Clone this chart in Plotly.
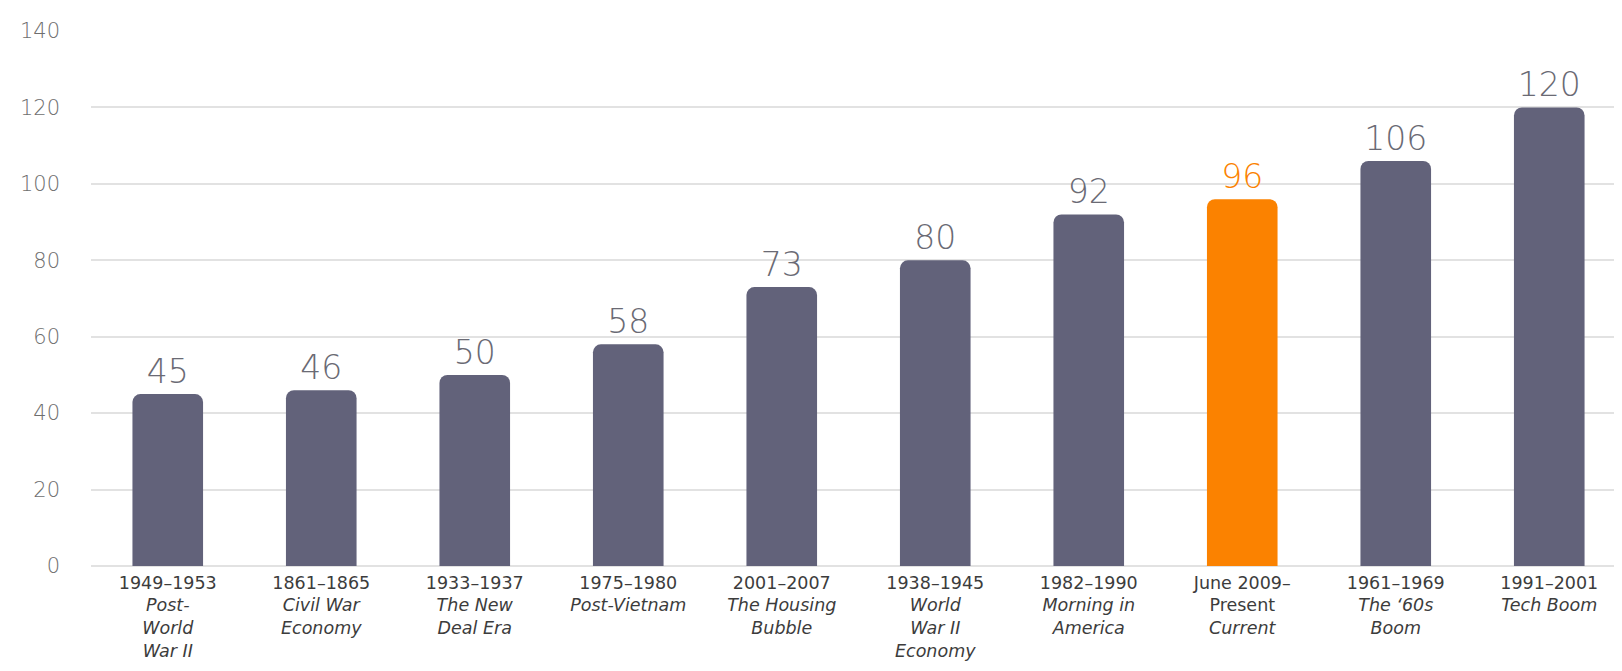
import plotly.graph_objects as go

periods = ["1949–1953", "1861–1865", "1933–1937", "1975–1980", "2001–2007",
           "1938–1945", "1982–1990", "June 2009–<br>Present", "1961–1969", "1991–2001"]
names = ["Post-<br>World<br>War II", "Civil War<br>Economy", "The New<br>Deal Era",
         "Post-Vietnam", "The Housing<br>Bubble", "World<br>War II<br>Economy",
         "Morning in<br>America", "Current", "The ‘60s<br>Boom", "Tech Boom"]
values = [45, 46, 50, 58, 73, 80, 92, 96, 106, 120]
highlight = "June 2009–<br>Present"

GRAY = "#62627a"
ORANGE = "#fb8200"
FONT = "DejaVu Sans"

cats = list(range(len(values)))
ticktext = [f"{p}<br><i>{n}</i>" for p, n in zip(periods, names)]
colors = [ORANGE if p == highlight else GRAY for p in periods]
text_colors = [ORANGE if p == highlight else "#6a6a74" for p in periods]

fig = go.Figure(go.Bar(
    x=cats, y=values,
    marker=dict(color=colors, cornerradius=8, line=dict(width=0)),
    text=[str(v) for v in values],
    textposition="outside",
    textfont=dict(size=33, color=text_colors, family=FONT, weight=200),
    cliponaxis=False,
))

fig.update_layout(
    width=1622, height=671,
    margin=dict(l=83, r=4, t=23, b=113),
    plot_bgcolor="white", paper_bgcolor="white",
    bargap=0.54,
    showlegend=False,
    font=dict(family=FONT, color="#333"),
)
fig.update_xaxes(
    tickmode="array", tickvals=cats, ticktext=ticktext,
    tickfont=dict(size=17.5, color="#3c3c3c", family=FONT),
    showgrid=False, showline=False, ticks="", range=[-0.5, len(values) - 0.5],
    ticklabelstandoff=4,
)
fig.update_yaxes(
    range=[0, 140], tickvals=[0, 20, 40, 60, 80, 100, 120, 140],
    tickfont=dict(size=21, color="#6e6e6e", family=FONT, weight=200),
    showgrid=True, gridcolor="#e2e2e2", gridwidth=1.5,
    zeroline=True, zerolinecolor="#e2e2e2", zerolinewidth=1.5,
    showline=False, ticks="", ticklabelstandoff=30,
)

fig.write_html("out.html")
